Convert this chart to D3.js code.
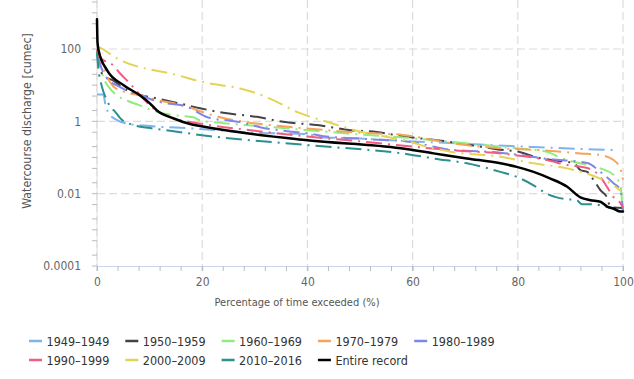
<!DOCTYPE html>
<html><head><meta charset="utf-8">
<script src="https://cdn.jsdelivr.net/npm/d3@7"></script>
<style>
body{margin:0;background:#fff;}
text{font-family:"DejaVu Sans Condensed","DejaVu Sans",sans-serif;}
</style></head><body>
<svg id="c" width="634" height="379"></svg>
<script>
// Data (percentage exceeded, discharge)
const seriesNames = ["1949-1949","1950-1959","1960-1969","1970-1979","1980-1989","1990-1999","2000-2009","2010-2016","Entire record"];
const seriesColors = ["#7cb5ec","#434348","#90ed7d","#f7a35c","#8085e9","#f15c80","#e4d354","#2b908f","#000000"];

const p1949 = [0, 1.2, 1.6, 2.5, 3.9, 5.7, 10, 17.7, 30.4, 40, 43, 49.4, 55.8, 67.2, 83, 98.2];
const v1949 = [5.5, 5.5, 2.9, 1.48, 1.07, 0.87, 0.74, 0.64, 0.48, 0.44, 0.36, 0.34, 0.30, 0.25, 0.195, 0.16];

const p1950 = [0, 0.5, 1.5, 2.85, 5.7, 11.4, 15.8, 19.6, 24, 30.4, 35.4, 41.8, 48.2, 53.2, 57, 67.2, 76, 80.5, 83.7, 86.4, 90.6, 91.9, 93.2, 94.4, 95.7, 97, 97.6, 100];
const v1950 = [90, 30, 17, 14, 7.2, 4.3, 3.1, 2.3, 1.72, 1.33, 0.97, 0.79, 0.57, 0.51, 0.41, 0.27, 0.17, 0.14, 0.10, 0.085, 0.07, 0.045, 0.04, 0.024, 0.0126, 0.0076, 0.0043, 0.004];

const p1960 = [0, 0.5, 1, 2.5, 4, 6, 8, 11, 14.5, 18.3, 19.6, 24, 32.3, 40, 49.4, 57, 64, 79.8, 85.5, 88, 90.6, 95.7, 98.2, 99.5, 100];
const v1960 = [80, 40, 20, 8, 5, 3.6, 2.8, 1.9, 1.48, 1.3, 1.07, 0.89, 0.71, 0.57, 0.44, 0.37, 0.30, 0.18, 0.145, 0.10, 0.076, 0.05, 0.033, 0.017, 0.0022];

const p1970 = [0, 0.5, 1.2, 2.1, 2.5, 3.5, 9.5, 11.4, 14.9, 17.7, 19.6, 23.4, 29.1, 36.8, 44.9, 50.6, 58.2, 67.2, 76.7, 84.3, 91.9, 95.7, 98.2, 99.5, 100];
const v1970 = [100, 50, 32, 15.5, 12, 8.3, 4.7, 3.85, 3.1, 2.4, 1.9, 1.3, 0.92, 0.70, 0.55, 0.48, 0.42, 0.25, 0.18, 0.16, 0.13, 0.117, 0.085, 0.05, 0.024];

const p1980 = [0, 0.3, 1, 2.5, 3.7, 5.6, 8.2, 12, 17.2, 21, 27.2, 31, 35.8, 40, 43, 52, 59.6, 66.4, 76.7, 86.1, 93.2, 95.7, 98.2, 99.5, 100];
const v1980 = [60, 49, 26, 12.6, 10, 7.2, 5.2, 3.4, 2.5, 1.3, 0.95, 0.69, 0.54, 0.47, 0.39, 0.32, 0.27, 0.17, 0.136, 0.09, 0.07, 0.04, 0.0195, 0.0126, 0.0035];

const p1990 = [0, 0.6, 3.1, 4.4, 6.3, 9.6, 11.5, 14.5, 20, 30, 40, 50, 60, 67.2, 77.8, 85.5, 89.4, 93.2, 95.7, 97, 98.2, 99.5, 100];
const v1990 = [100, 59, 35, 21, 11, 3.2, 1.9, 1.23, 0.85, 0.55, 0.38, 0.28, 0.2, 0.16, 0.124, 0.085, 0.062, 0.051, 0.029, 0.015, 0.008, 0.0055, 0.004];

const p2000 = [0, 0.3, 3.8, 15.2, 20.9, 27.2, 30.4, 33.5, 38, 43.7, 49.4, 59.6, 62.7, 67.2, 76.7, 83, 89.4, 95.7, 98.2, 99.5];
const v2000 = [120, 115, 55, 19, 11.5, 8.1, 5.9, 3.85, 1.83, 0.97, 0.55, 0.27, 0.2, 0.145, 0.105, 0.069, 0.05, 0.026, 0.017, 0.012];

const p2010 = [0, 0.2, 0.95, 1.6, 2.5, 3.5, 4.4, 6.9, 10.1, 13.9, 19.6, 40, 59.6, 64, 70.3, 76.7, 79.8, 83, 85.5, 87.4, 89.4, 91.2, 92.2, 94.4, 96.2, 98.8, 100];
const v2010 = [80, 35, 8.9, 4.75, 2.6, 1.8, 1.23, 0.79, 0.65, 0.55, 0.42, 0.22, 0.12, 0.094, 0.069, 0.040, 0.029, 0.017, 0.010, 0.0079, 0.0070, 0.0066, 0.0051, 0.0051, 0.0046, 0.0035, 0.0032];

const pAll = [0, 0.1, 0.3, 1.9, 5.06, 8.2, 10.1, 11.4, 14.6, 17.7, 19.6, 40, 57.7, 64, 70.3, 76.7, 79.8, 83, 86.1, 89.4, 91.9, 93.8, 95.7, 97, 98.2, 99.5, 100];
const vAll = [660, 150, 93, 26, 10, 5.2, 3.1, 2.0, 1.2, 0.84, 0.74, 0.30, 0.18, 0.13, 0.094, 0.069, 0.055, 0.040, 0.0265, 0.0155, 0.0079, 0.0066, 0.006, 0.0044, 0.0039, 0.0032, 0.0032];

const seriesP = [p1949, p1950, p1960, p1970, p1980, p1990, p2000, p2010, pAll];
const seriesV = [v1949, v1950, v1960, v1970, v1980, v1990, v2000, v2010, vAll];

const xTicks = [0, 20, 40, 60, 80, 100];
const yTicks = [0.0001, 0.01, 1, 100];
const yMinor = [0.0002,0.0005,0.001,0.002,0.005,0.02,0.05,0.1,0.2,0.5,2,5,10,20,50,200,500,1000,2000];

const svg = d3.select("#c");
const L = 97, R = 623, T = 0, B = 266;
const x = d3.scaleLinear().domain([0, 100]).range([L, R]);
const y = d3.scaleLog().domain([1e-4, 100]).range([B, 49]);

// grid
const grid = svg.append("g");
xTicks.forEach(t => grid.append("line").attr("x1", x(t)).attr("x2", x(t)).attr("y1", T).attr("y2", B)
  .attr("stroke", "#dcdcdc").attr("stroke-dasharray", "8,4").attr("stroke-width", 1.2));
yTicks.filter(t => t > 1e-4).forEach(t => grid.append("line").attr("x1", L).attr("x2", R).attr("y1", y(t)).attr("y2", y(t))
  .attr("stroke", "#dcdcdc").attr("stroke-dasharray", "8,4").attr("stroke-width", 1.2));

// axes
const xAxis = d3.axisBottom(x).tickValues(xTicks).tickSize(5).tickPadding(6).tickFormat(d3.format("d"));
const gx = svg.append("g").attr("transform", `translate(0,${B})`).call(xAxis);
gx.select(".domain").attr("stroke", "#ccd6eb");
gx.selectAll(".tick line").attr("stroke", "#bbb");
gx.selectAll("text").attr("fill", "#666").attr("font-size", 12);
// x minor ticks
svg.append("g").selectAll("line").data(d3.range(0, 101, 4)).join("line")
  .attr("x1", d => x(d)).attr("x2", d => x(d)).attr("y1", B).attr("y2", B + 5).attr("stroke", "#bbb");

const yAxis = d3.axisLeft(y).tickValues(yTicks).tickSize(0).tickPadding(16)
  .tickFormat(d => d >= 1 ? d3.format("d")(d) : String(d));
const gy = svg.append("g").attr("transform", `translate(${L},0)`).call(yAxis);
gy.select(".domain").remove();
gy.selectAll("text").attr("fill", "#666").attr("font-size", 12);
svg.append("line").attr("x1", L).attr("x2", L).attr("y1", T).attr("y2", B).attr("stroke", "#ddd");
svg.append("g").selectAll("line").data(yMinor.concat(yTicks)).join("line")
  .attr("x1", L - 5).attr("x2", L).attr("y1", d => y(d)).attr("y2", d => y(d)).attr("stroke", "#bbb");

// titles
svg.append("text").attr("x", 297).attr("y", 306).attr("text-anchor", "middle")
  .attr("fill", "#555").attr("font-size", 11).text("Percentage of time exceeded (%)");
svg.append("text").attr("transform", "translate(31,121) rotate(-90)").attr("text-anchor", "middle")
  .attr("fill", "#555").attr("font-size", 12.3).text("Watercourse discharge [cumec]");

// series
svg.append("clipPath").attr("id", "clip").append("rect").attr("x", L - 2).attr("y", T).attr("width", R - L + 4).attr("height", B - T);
const line = d3.line().x(d => x(d[0])).y(d => y(d[1])).curve(d3.curveMonotoneX);
const gs = svg.append("g").attr("clip-path", "url(#clip)");
seriesNames.forEach((n, i) => {
  const data = seriesP[i].map((p, j) => [p, seriesV[i][j]]);
  const isAll = i === 8;
  gs.append("path").datum(data).attr("d", line).attr("fill", "none")
    .attr("stroke", seriesColors[i]).attr("stroke-width", isAll ? 2.5 : 2)
    .attr("stroke-linecap", isAll ? "round" : "butt").attr("stroke-linejoin", "round")
    .attr("stroke-dasharray", isAll ? null : "16,6,2,6");
});

// legend
const legend = svg.append("g");
seriesNames.forEach((n, i) => {
  const col = i % 5, row = Math.floor(i / 5);
  const lx = 29 + col * 96.3, ly = 341 + row * 19;
  legend.append("line").attr("x1", lx).attr("x2", lx + 13).attr("y1", ly).attr("y2", ly)
    .attr("stroke", seriesColors[i]).attr("stroke-width", 2.5);
  legend.append("text").attr("x", lx + 17.5).attr("y", ly + 4.5).attr("fill", "#333").attr("font-size", 12.5)
    .text(n.replace("-", "–"));
});
</script>
</body></html>
